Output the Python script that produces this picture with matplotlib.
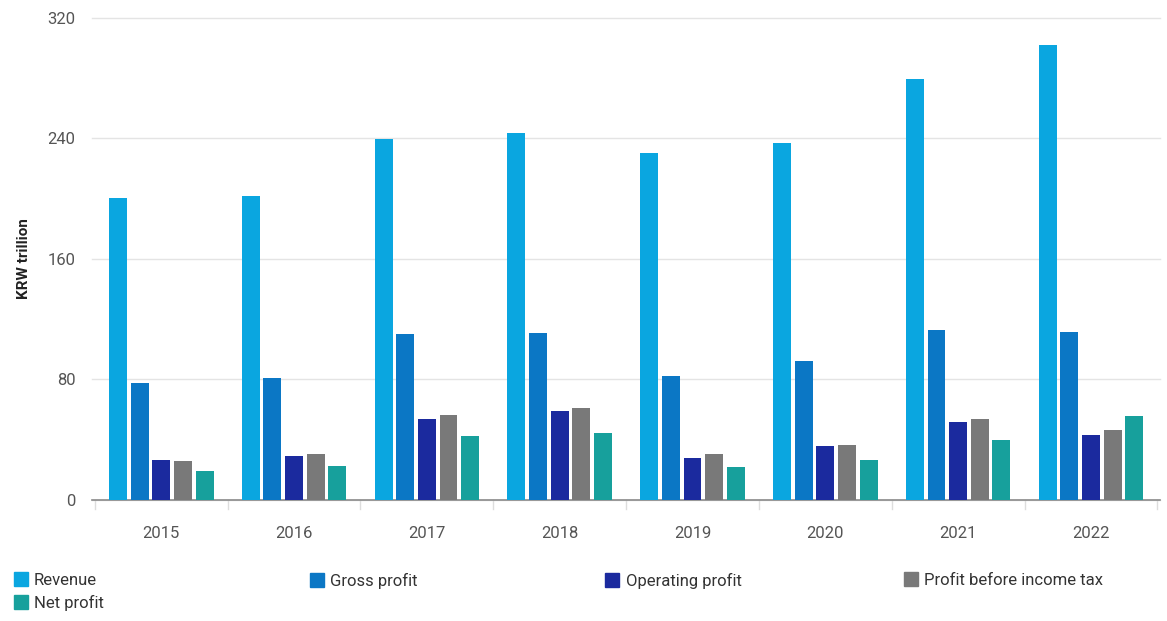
import matplotlib.pyplot as plt
import numpy as np
from matplotlib.lines import Line2D

plt.rcParams['font.family'] = ['Roboto', 'DejaVu Sans']

years = ['2015', '2016', '2017', '2018', '2019', '2020', '2021', '2022']
revenue = [200.7, 201.9, 239.6, 243.8, 230.4, 236.8, 279.6, 302.2]
gross_profit = [77.6, 80.7, 110.0, 111.0, 82.5, 92.5, 112.5, 111.5]
operating_profit = [26.4, 29.2, 53.6, 58.9, 27.8, 36.0, 51.6, 43.4]
profit_before_tax = [26.0, 30.7, 56.2, 61.2, 30.4, 36.3, 53.4, 46.4]
net_profit = [19.1, 22.7, 42.2, 44.3, 21.7, 26.4, 39.9, 55.7]

series = [
    ('Revenue', revenue, '#0aa6e0'),
    ('Gross profit', gross_profit, '#0b77c5'),
    ('Operating profit', operating_profit, '#1b2a9e'),
    ('Profit before income tax', profit_before_tax, '#797979'),
    ('Net profit', net_profit, '#17a09c'),
]

fig = plt.figure(figsize=(11.67, 6.21), dpi=100)
ax = fig.add_axes([0.079, 0.195, 0.915, 0.776])

x = np.arange(len(years))
step = 0.163
width = 0.135
for i, (name, vals, color) in enumerate(series):
    ax.bar(x + (i - 2) * step, vals, width=width, color=color, zorder=3)

ax.set_xlim(-0.52, len(years) - 0.48)
ax.set_ylim(0, 320)
ax.set_yticks([0, 80, 160, 240, 320])
ax.set_xticks(x)
ax.set_xticklabels(years)
ax.tick_params(axis='both', length=0, labelsize=12, colors='#555555')
ax.tick_params(axis='x', pad=19)
ax.tick_params(axis='y', pad=12)
ax.grid(axis='y', color='#e4e4e4', linewidth=1, zorder=0)
ax.set_axisbelow(True)
for side in ['top', 'right', 'left']:
    ax.spines[side].set_visible(False)
ax.spines['bottom'].set_color('#8a8a8a')
ax.spines['bottom'].set_linewidth(1.2)
for g in ax.get_ygridlines():
    g.set_clip_on(False)

# faint separators between year groups
for b in np.arange(-0.5, len(years), 1.0):
    ax.plot([b, b], [0, -6], color='#dddddd', linewidth=1, clip_on=False)

ax.set_ylabel('KRW trillion', fontsize=11, fontweight='bold', color='#222222', labelpad=12)

# legend laid out as a four-column grid, last item wraps under the first
columns = [[0, 4], [1], [2], [3]]
col_x = [0.012, 0.266, 0.519, 0.775]
for cx, idxs in zip(col_x, columns):
    handles = [Line2D([], [], marker='s', linestyle='none', markersize=10,
                      color=series[k][2]) for k in idxs]
    labels = [series[k][0] for k in idxs]
    fig.legend(handles, labels, loc='upper left', bbox_to_anchor=(cx, 0.078),
               frameon=False, fontsize=12, borderpad=0, borderaxespad=0,
               handlelength=0.8, handletextpad=0.4, labelspacing=0.45,
               labelcolor='#333333')

fig.savefig('out.png', dpi=100, facecolor='white')
